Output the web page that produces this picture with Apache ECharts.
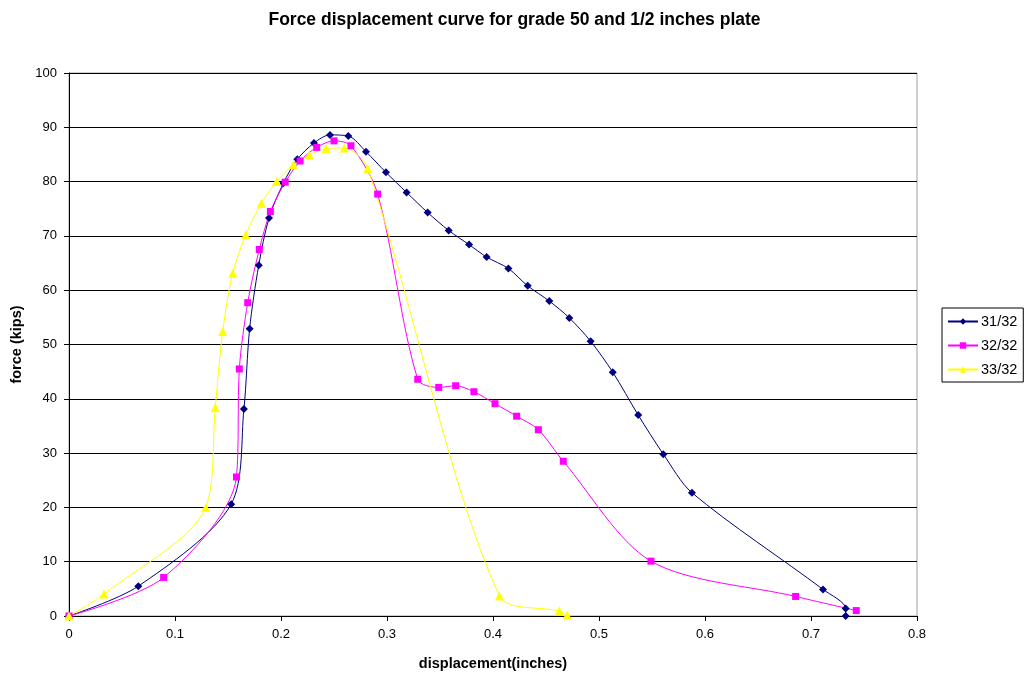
<!DOCTYPE html>
<html>
<head>
<meta charset="utf-8">
<script src="https://cdn.jsdelivr.net/npm/echarts@6/dist/echarts.min.js"></script>
<style>
html,body{margin:0;padding:0;background:#fff;}
#chart{width:1029px;height:674px;}
</style>
</head>
<body>
<div id="chart"></div>
<script>
const seriesNames = ['31/32', '32/32', '33/32'];

const x31 = [0, 0.0654, 0.153, 0.165, 0.1704, 0.179, 0.1887, 0.2022, 0.2154, 0.2311, 0.2462, 0.2635, 0.2802, 0.299, 0.3185, 0.3384, 0.3582, 0.3774, 0.394, 0.4145, 0.4327, 0.4531, 0.472, 0.4921, 0.513, 0.537, 0.5607, 0.5877, 0.7113, 0.7327, 0.7327];
const y31 = [0, 5.5, 20.6, 38.1, 52.9, 64.6, 73.3, 79.7, 84.1, 87.1, 88.6, 88.4, 85.5, 81.7, 78.0, 74.3, 71.0, 68.4, 66.1, 64.0, 60.8, 58.0, 54.9, 50.6, 44.9, 37.0, 29.8, 22.7, 4.9, 1.4, 0];

const x32 = [0, 0.0893, 0.158, 0.1607, 0.1686, 0.1795, 0.190, 0.204, 0.218, 0.2337, 0.25, 0.266, 0.2912, 0.329, 0.3488, 0.3648, 0.382, 0.4019, 0.4223, 0.4428, 0.4663, 0.549, 0.6855, 0.7427];
const y32 = [0, 7.1, 25.6, 45.5, 57.7, 67.5, 74.5, 79.9, 83.8, 86.3, 87.5, 86.6, 77.7, 43.6, 42.1, 42.4, 41.3, 39.1, 36.8, 34.3, 28.5, 10.1, 3.6, 1.0];

const x33 = [0, 0.033, 0.129, 0.138, 0.145, 0.1544, 0.1667, 0.1814, 0.1959, 0.2116, 0.2267, 0.2425, 0.2597, 0.2818, 0.406, 0.4626, 0.470];
const y33 = [0, 4.05, 20.0, 38.4, 52.4, 63.1, 70.2, 76.0, 80.0, 83.1, 84.9, 86.1, 86.2, 82.4, 3.7, 0.9, 0.2];

const xTicks = [0, 0.1, 0.2, 0.3, 0.4, 0.5, 0.6, 0.7, 0.8];
const yTicks = [0, 10, 20, 30, 40, 50, 60, 70, 80, 90, 100];

function pairs(xs, ys) { return xs.map((x, i) => [x, ys[i]]); }

const FONT = '"Liberation Sans", Arial, sans-serif';
const chart = echarts.init(document.getElementById('chart'), null, {renderer: 'canvas'});

const mk = (name, xs, ys, color, symbol, size) => ({
  name: name,
  type: 'line',
  data: pairs(xs, ys),
  smooth: 0.3,
  symbol: symbol,
  symbolSize: size,
  showAllSymbol: true,
  lineStyle: {color: color, width: 1},
  itemStyle: {color: color},
  emphasis: {disabled: true},
  animation: false
});

chart.setOption({
  backgroundColor: '#fff',
  animation: false,
  title: {
    text: 'Force displacement curve for grade 50 and 1/2 inches plate',
    left: 'center',
    top: 6,
    textStyle: {fontFamily: FONT, fontSize: 17.5, fontWeight: 'bold', color: '#000'}
  },
  legend: {
    orient: 'vertical',
    left: 942,
    top: 308,
    width: 80,
    padding: [6, 6, 5, 5],
    itemGap: 9,
    itemWidth: 30,
    itemHeight: 8,
    borderColor: '#000',
    borderWidth: 1,
    textStyle: {fontFamily: FONT, fontSize: 14.5, color: '#000', padding: [0, 0, 0, -2]},
    data: seriesNames
  },
  grid: {
    left: 69, right: 112, top: 73, bottom: 58,
    outerBoundsMode: 'none',
    containLabel: false,
    show: true,
    borderColor: '#a0a0a0',
    borderWidth: 1,
    backgroundColor: '#fff'
  },
  xAxis: {
    type: 'value',
    min: xTicks[0],
    max: xTicks[xTicks.length - 1],
    interval: 0.1,
    name: 'displacement(inches)',
    nameLocation: 'middle',
    nameGap: 40,
    nameTextStyle: {fontFamily: FONT, fontSize: 14.5, fontWeight: 'bold', color: '#000'},
    axisLine: {show: true, onZero: false, lineStyle: {color: '#000', width: 1}},
    axisTick: {show: true, length: 5, lineStyle: {color: '#000'}},
    axisLabel: {fontFamily: FONT, fontSize: 13, color: '#000', margin: 12,
      formatter: v => String(Math.round(v * 10) / 10)},
    splitLine: {show: false}
  },
  yAxis: {
    type: 'value',
    min: yTicks[0],
    max: yTicks[yTicks.length - 1],
    interval: 10,
    name: 'force (kips)',
    nameLocation: 'middle',
    nameGap: 43,
    nameTextStyle: {fontFamily: FONT, fontSize: 14.5, fontWeight: 'bold', color: '#000'},
    axisLine: {show: true, lineStyle: {color: '#000', width: 1}},
    axisTick: {show: true, length: 5, lineStyle: {color: '#000'}},
    axisLabel: {fontFamily: FONT, fontSize: 13, color: '#000', margin: 12},
    splitLine: {show: true, lineStyle: {color: '#000', width: 1}}
  },
  series: [
    mk(seriesNames[0], x31, y31, '#000080', 'diamond', 8),
    mk(seriesNames[1], x32, y32, '#ff00ff', 'rect', 7),
    mk(seriesNames[2], x33, y33, '#ffff00', 'triangle', 9)
  ]
});
</script>
</body>
</html>
